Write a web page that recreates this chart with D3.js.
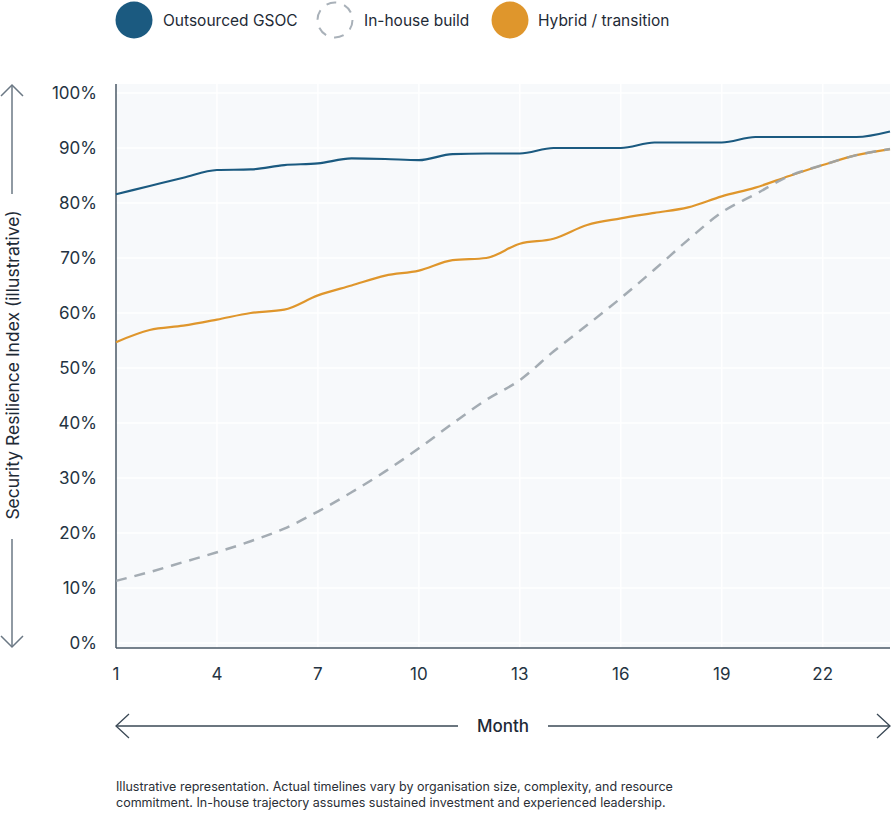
<!DOCTYPE html>
<html>
<head>
<meta charset="utf-8">
<script src="https://cdn.jsdelivr.net/npm/d3@7"></script>
<style>
  body { margin: 0; background: #fff; }
  svg { display: block; font-family: Inter, "Noto Sans", sans-serif; }
</style>
</head>
<body>
<div id="chart"></div>
<script>
const width = 892;
const height = 814;

const months = d3.range(1, 25);
const outsourced = [81.6, 83.1, 84.6, 86, 86.1, 86.9, 87.2, 88.1, 88, 87.8, 88.9, 89,
                    89, 90, 90, 90, 91, 91, 91, 92, 92, 92, 92, 93];
const inhouse = [11.3, 12.9, 14.7, 16.5, 18.5, 20.8, 23.9, 27.4, 31.2, 35.4, 39.9, 44.2,
                 47.8, 53, 57.8, 62.7, 67.9, 73.3, 78.3, 81.6, 84.9, 86.9, 88.7, 89.8];
const hybrid = [54.7, 56.9, 57.7, 58.8, 60, 60.6, 63.2, 65, 66.8, 67.7, 69.6, 70,
                72.6, 73.5, 76, 77.2, 78.2, 79.2, 81.2, 82.8, 84.9, 86.9, 88.7, 89.8];
const xTicks = [1, 4, 7, 10, 13, 16, 19, 22];
const yTicks = d3.range(0, 101, 10);

const series = [
    { name: "Outsourced GSOC", values: outsourced, color: "#1b5a80", dash: null },
    { name: "Hybrid / transition", values: hybrid, color: "#df962c", dash: null },
    { name: "In-house build", values: inhouse, color: "#9aa3ab", dash: "11,8" }
];
const legendOrder = ["Outsourced GSOC", "In-house build", "Hybrid / transition"];

const plot = { left: 116, right: 890, top: 84, bottom: 648 };

const x = d3.scaleLinear().domain([1, 24]).range([plot.left, plot.right]);
const y = d3.scaleLinear().domain([0, 100]).range([643, 93]);

const svg = d3.select("#chart").append("svg")
    .attr("width", width)
    .attr("height", height);

// plot background
svg.append("rect")
    .attr("x", plot.left).attr("y", plot.top)
    .attr("width", plot.right - plot.left)
    .attr("height", plot.bottom - plot.top)
    .attr("fill", "#f7f9fb");

// grid
svg.append("g")
    .selectAll("line")
    .data(yTicks)
    .join("line")
    .attr("x1", plot.left).attr("x2", plot.right)
    .attr("y1", d => y(d)).attr("y2", d => y(d))
    .attr("stroke", "#fff").attr("stroke-width", 1.5);

svg.append("g")
    .selectAll("line")
    .data(xTicks.slice(1))
    .join("line")
    .attr("x1", d => x(d)).attr("x2", d => x(d))
    .attr("y1", plot.top).attr("y2", plot.bottom)
    .attr("stroke", "#fff").attr("stroke-width", 1.5);

// axes lines
svg.append("line")
    .attr("x1", plot.left).attr("x2", plot.left)
    .attr("y1", plot.top).attr("y2", plot.bottom)
    .attr("stroke", "#4a5966").attr("stroke-width", 1.5);
svg.append("line")
    .attr("x1", plot.left).attr("x2", plot.right)
    .attr("y1", plot.bottom).attr("y2", plot.bottom)
    .attr("stroke", "#4a5966").attr("stroke-width", 1.5);

// tick labels
svg.append("g")
    .selectAll("text")
    .data(yTicks)
    .join("text")
    .attr("x", 97)
    .attr("y", d => y(d))
    .attr("dy", "0.35em")
    .attr("text-anchor", "end")
    .attr("font-size", 17)
    .attr("fill", "#243342")
    .text(d => d + "%");

svg.append("g")
    .selectAll("text")
    .data(xTicks)
    .join("text")
    .attr("x", d => x(d))
    .attr("y", 674)
    .attr("dy", "0.35em")
    .attr("text-anchor", "middle")
    .attr("font-size", 17)
    .attr("fill", "#243342")
    .text(d => d);

// lines
const line = d3.line()
    .x((d, i) => x(months[i]))
    .y(d => y(d))
    .curve(d3.curveMonotoneX);

svg.append("g")
    .selectAll("path")
    .data(series)
    .join("path")
    .attr("d", d => line(d.values))
    .attr("fill", "none")
    .attr("stroke", d => d.color)
    .attr("stroke-width", d => d.dash ? 2.5 : 2.2)
    .attr("stroke-dasharray", d => d.dash)
    .attr("stroke-opacity", d => d.dash ? 0.9 : 1);

// legend
const legendPos = [
    { cx: 134, tx: 163 },
    { cx: 335, tx: 364 },
    { cx: 510, tx: 538 }
];
const legend = svg.append("g");
legendOrder.forEach((name, i) => {
    const s = series.find(d => d.name === name);
    const p = legendPos[i];
    if (s.dash) {
        legend.append("circle")
            .attr("cx", p.cx).attr("cy", 20).attr("r", 17.5)
            .attr("fill", "none")
            .attr("stroke", "#a9b1b9")
            .attr("stroke-width", 2)
            .attr("stroke-dasharray", "10,8.3");
    } else {
        legend.append("circle")
            .attr("cx", p.cx).attr("cy", 20).attr("r", 18.5)
            .attr("fill", s.color);
    }
    legend.append("text")
        .attr("x", p.tx).attr("y", 21)
        .attr("dy", "0.35em")
        .attr("font-size", 15.5)
        .attr("fill", "#1e2a36")
        .text(name);
});

// y title with arrows
const yArrowColor = "#6b7884";
svg.append("text")
    .attr("transform", "translate(19,365) rotate(-90)")
    .attr("text-anchor", "middle")
    .attr("font-size", 17.5)
    .attr("fill", "#1e2a36")
    .text("Security Resilience Index (illustrative)");

const yArr = svg.append("g").attr("stroke", yArrowColor).attr("stroke-width", 1.5).attr("fill", "none");
yArr.append("line").attr("x1", 12).attr("x2", 12).attr("y1", 85).attr("y2", 194);
yArr.append("path").attr("d", "M1,96 L12,85 L23,96");
yArr.append("line").attr("x1", 12).attr("x2", 12).attr("y1", 539).attr("y2", 647);
yArr.append("path").attr("d", "M1,636 L12,647 L23,636");

// x title with arrows
svg.append("text")
    .attr("x", 503).attr("y", 726)
    .attr("dy", "0.35em")
    .attr("text-anchor", "middle")
    .attr("font-size", 17)
    .attr("font-weight", 500)
    .attr("fill", "#1e2a36")
    .text("Month");

const xArr = svg.append("g").attr("stroke", "#3a4855").attr("stroke-width", 1.3).attr("fill", "none");
xArr.append("line").attr("x1", 116).attr("x2", 458).attr("y1", 726).attr("y2", 726);
xArr.append("path").attr("d", "M129,714 L116,726 L129,738");
xArr.append("line").attr("x1", 548).attr("x2", 890).attr("y1", 726).attr("y2", 726);
xArr.append("path").attr("d", "M877,714 L890,726 L877,738");

// footnote
const note = [
    "Illustrative representation. Actual timelines vary by organisation size, complexity, and resource",
    "commitment. In-house trajectory assumes sustained investment and experienced leadership."
];
svg.append("g")
    .selectAll("text")
    .data(note)
    .join("text")
    .attr("x", 116)
    .attr("y", (d, i) => 787 + i * 16)
    .attr("dy", "0.35em")
    .attr("font-size", 12.5)
    .attr("fill", "#2a2f36")
    .text(d => d);
</script>
</body>
</html>
